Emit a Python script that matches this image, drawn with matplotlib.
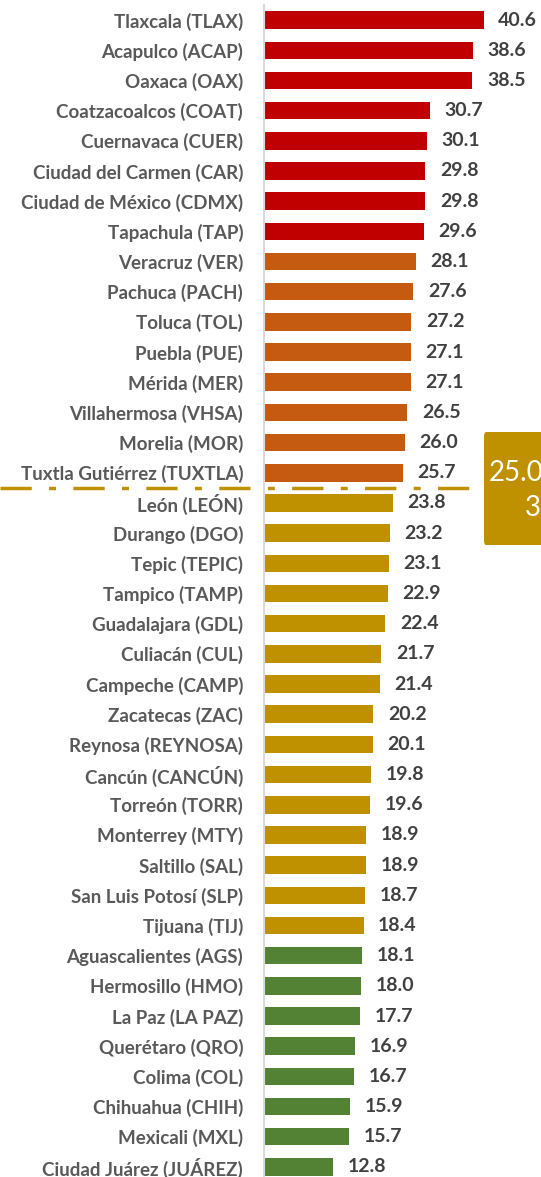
import matplotlib
matplotlib.use("Agg")
import matplotlib.pyplot as plt
from matplotlib.patches import FancyBboxPatch
import matplotlib.transforms as mtransforms

categories = ["Tlaxcala (TLAX)", "Acapulco (ACAP)", "Oaxaca (OAX)", "Coatzacoalcos (COAT)",
              "Cuernavaca (CUER)", "Ciudad del Carmen (CAR)", "Ciudad de México (CDMX)",
              "Tapachula (TAP)", "Veracruz (VER)", "Pachuca (PACH)", "Toluca (TOL)",
              "Puebla (PUE)", "Mérida (MER)", "Villahermosa (VHSA)", "Morelia (MOR)",
              "Tuxtla Gutiérrez (TUXTLA)", "León (LEÓN)", "Durango (DGO)", "Tepic (TEPIC)",
              "Tampico (TAMP)", "Guadalajara (GDL)", "Culiacán (CUL)", "Campeche (CAMP)",
              "Zacatecas (ZAC)", "Reynosa (REYNOSA)", "Cancún (CANCÚN)", "Torreón (TORR)",
              "Monterrey (MTY)", "Saltillo (SAL)", "San Luis Potosí (SLP)", "Tijuana (TIJ)",
              "Aguascalientes (AGS)", "Hermosillo (HMO)", "La Paz (LA PAZ)", "Querétaro (QRO)",
              "Colima (COL)", "Chihuahua (CHIH)", "Mexicali (MXL)", "Ciudad Juárez (JUÁREZ)"]
values = [40.6, 38.6, 38.5, 30.7, 30.1, 29.8, 29.8, 29.6, 28.1, 27.6, 27.2, 27.1, 27.1,
          26.5, 26.0, 25.7, 23.8, 23.2, 23.1, 22.9, 22.4, 21.7, 21.4, 20.2, 20.1, 19.8,
          19.6, 18.9, 18.9, 18.7, 18.4, 18.1, 18.0, 17.7, 16.9, 16.7, 15.9, 15.7, 12.8]
groups = ["red"] * 8 + ["orange"] * 8 + ["gold"] * 15 + ["green"] * 8
group_colors = {"red": "#C00000", "orange": "#C55A11", "gold": "#BF9000", "green": "#548235"}
mean_value = 25.03
mean_text_1 = "25.0"
mean_text_2 = "3"

plt.rcParams['font.family'] = ['Lato', 'DejaVu Sans']

W, H = 541, 1177
fig = plt.figure(figsize=(W / 100, H / 100), dpi=100)
ax_left = 264 / W
ax = fig.add_axes([ax_left, -5 / H, 1 - ax_left, 1177 / H])

y = list(range(len(categories)))
colors = [group_colors[g] for g in groups]
ax.barh(y, values, height=0.58, color=colors)
ax.set_ylim(len(categories) - 0.5, -0.5)
xmax = (W - 264) / 5.41
ax.set_xlim(0, xmax)

for yi, v in zip(y, values):
    ax.text(v + 2.7, yi, f"{v:.1f}", va="center", ha="left", fontsize=14,
            fontweight="bold", color="#404040")

ax.set_yticks(y)
ax.set_yticklabels(categories, fontsize=13.5, fontweight="bold", color="#595959")
ax.tick_params(axis="y", length=0, pad=15)
ax.set_xticks([])
for s in ["top", "right", "bottom"]:
    ax.spines[s].set_visible(False)
ax.spines["left"].set_color("#D9D9D9")
ax.spines["left"].set_linewidth(1.5)

# mean line between the groups above and below the mean
n_above = sum(1 for v in values if v > mean_value)
line_y = n_above - 0.5
trans = mtransforms.blended_transform_factory(fig.transFigure, ax.transData)
ax.plot([0, 485 / W], [line_y, line_y], transform=trans, clip_on=False,
        color="#BF9000", linewidth=2.5, dashes=(9, 5, 2, 5), zorder=5)

# mean label box
box = FancyBboxPatch((484 / W, 1 - 545 / H), 70 / W, 113 / H,
                     boxstyle="round,pad=0,rounding_size=0.004",
                     transform=fig.transFigure, facecolor="#BF9000",
                     edgecolor="none", zorder=6)
fig.patches.append(box)
fig.text(489 / W, 1 - 473 / H, mean_text_1, ha="left", va="center", fontsize=20,
         color="white", zorder=7)
fig.text(525 / W, 1 - 508 / H, mean_text_2, ha="left", va="center", fontsize=20,
         color="white", zorder=7)

fig.savefig("out.png", dpi=100)
